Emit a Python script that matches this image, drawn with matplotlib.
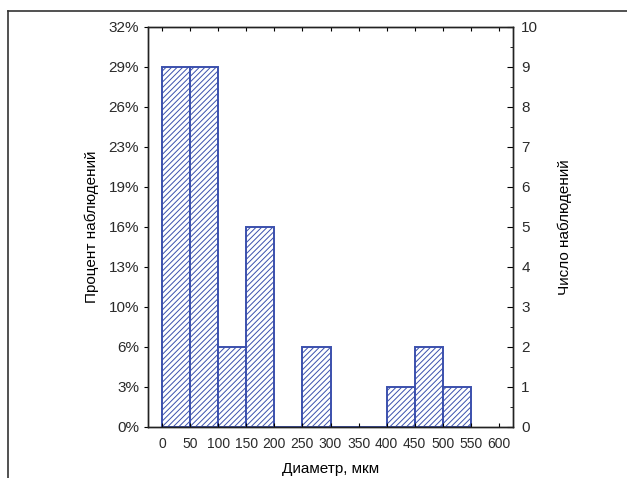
import numpy as np
import matplotlib.pyplot as plt
from matplotlib.lines import Line2D

plt.rcParams['font.family'] = ['Liberation Sans', 'DejaVu Sans']
plt.rcParams['hatch.linewidth'] = 0.7
plt.rcParams['text.color'] = '#2a2a2a'
plt.rcParams['xtick.labelcolor'] = '#2a2a2a'
plt.rcParams['ytick.labelcolor'] = '#2a2a2a'

# Histogram of diameters (bin width 50 um)
bin_left = [0, 50, 100, 150, 200, 250, 300, 350, 400, 450, 500]
counts = [9, 9, 2, 5, 0, 2, 0, 0, 1, 2, 1]
x_ticks = [0, 50, 100, 150, 200, 250, 300, 350, 400, 450, 500, 550, 600]
count_ticks = list(range(0, 11))

total = sum(counts)
blue = '#3b50ad'

fig = plt.figure(figsize=(6.27, 4.78), dpi=100)
ax = fig.add_axes([148 / 627, 51 / 478, 365 / 627, 400 / 478])

ax.bar(bin_left, counts, width=50, align='edge', color='white',
       edgecolor=blue, hatch='//////', linewidth=1.4)

ax.set_xlim(-25, 625)
ax.set_ylim(0, 10)
ax.set_xticks(x_ticks)
ax.set_xticklabels([str(v) for v in x_ticks])
ax.set_yticks(count_ticks)
ax.set_yticklabels(['%d%%' % round(c / total * 100) for c in count_ticks])
ax.tick_params(axis='x', direction='in', length=3, top=True, labelsize=10, pad=7)
ax.tick_params(axis='y', direction='out', length=3, labelsize=11)
ax.set_xlabel('Диаметр, мкм', fontsize=11, labelpad=8)
ax.set_ylabel('Процент наблюдений', fontsize=11, labelpad=7)

ax2 = ax.twinx()
ax2.set_ylim(0, 10)
ax2.set_yticks(count_ticks)
ax2.set_yticks(np.arange(0.5, 10, 0.5), minor=True)
ax2.tick_params(axis='y', which='major', direction='in', length=4, labelsize=11, pad=6)
ax2.tick_params(axis='y', which='minor', direction='in', length=2)
ax2.set_ylabel('Число наблюдений', fontsize=11, labelpad=14)

for a in (ax, ax2):
    for s in a.spines.values():
        s.set_linewidth(1.0)
        s.set_color('#222222')

# outer frame lines (top and left)
fig.add_artist(Line2D([8 / 627, 8 / 627], [0, 1 - 11 / 478], color='#333333', lw=1.2))
fig.add_artist(Line2D([8 / 627, 1], [1 - 11 / 478, 1 - 11 / 478], color='#333333', lw=1.2))

fig.savefig('out.png', dpi=100)
